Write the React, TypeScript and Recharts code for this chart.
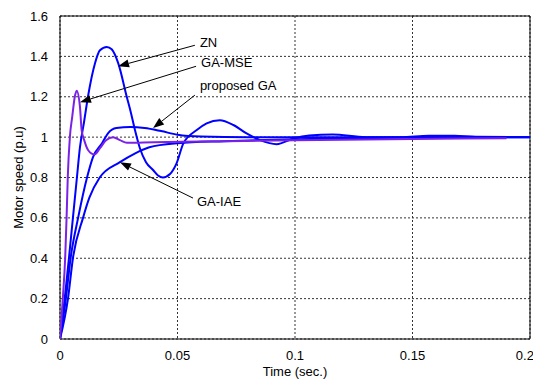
import React from "react";
import { LineChart, Line, XAxis, YAxis, CartesianGrid, ReferenceLine, ReferenceArea, Label } from "recharts";

// ZN response
const znTime = [0, 0.002, 0.0038, 0.0055, 0.0072, 0.0085, 0.0103, 0.0119, 0.0149, 0.017, 0.0199, 0.022, 0.0248, 0.0284, 0.0302, 0.0319, 0.034, 0.0366, 0.0396, 0.0417, 0.0438, 0.0468, 0.0496, 0.0525, 0.0582, 0.0624, 0.068, 0.0738, 0.0794, 0.0851, 0.0922, 0.0991, 0.106, 0.116, 0.13, 0.145, 0.157, 0.168, 0.177, 0.2];
const znSpeed = [0, 0.2, 0.4, 0.6, 0.8, 0.95, 1.08, 1.2, 1.366, 1.43, 1.447, 1.435, 1.365, 1.2, 1.12, 1.035, 0.945, 0.876, 0.837, 0.81, 0.8, 0.817, 0.87, 0.969, 1.035, 1.068, 1.084, 1.06, 1.018, 0.985, 0.965, 0.992, 1.008, 1.013, 1.0, 1.0, 1.007, 1.007, 1.002, 1.0];

// GA-MSE response
const mseTime = [0, 0.0012, 0.0022, 0.0028, 0.0033, 0.0042, 0.0052, 0.0063, 0.0071, 0.0085, 0.0092, 0.0103, 0.012, 0.0146, 0.017, 0.0196, 0.0226, 0.0255, 0.0285, 0.04, 0.06, 0.1, 0.14, 0.19];
const mseSpeed = [0, 0.2, 0.4, 0.6, 0.8, 1.0, 1.1, 1.2, 1.23, 1.15, 1.035, 0.985, 0.935, 0.914, 0.945, 0.985, 1.0, 0.985, 0.972, 0.975, 0.978, 0.985, 0.99, 0.995];

// proposed GA response
const propTime = [0, 0.0025, 0.0045, 0.0077, 0.0115, 0.014, 0.0179, 0.0205, 0.024, 0.03, 0.036, 0.043, 0.05, 0.06, 0.08, 0.2];
const propSpeed = [0, 0.2, 0.4, 0.6, 0.8, 0.9, 0.97, 1.02, 1.045, 1.05, 1.045, 1.03, 1.012, 1.003, 1.0, 1.0];

// GA-IAE response
const iaeTime = [0, 0.0034, 0.0055, 0.0098, 0.0125, 0.0169, 0.0255, 0.032, 0.038, 0.05, 0.07, 0.1, 0.15, 0.2];
const iaeSpeed = [0, 0.2, 0.4, 0.6, 0.7, 0.8, 0.876, 0.92, 0.95, 0.97, 0.98, 0.99, 0.998, 1.0];

const xTicks = [0, 0.05, 0.1, 0.15, 0.2];
const yTicks = [0, 0.2, 0.4, 0.6, 0.8, 1, 1.2, 1.4, 1.6];

// annotations: label, label anchor (start of arrow), arrow tip
const noteLabels = ["ZN", "GA-MSE", "proposed GA", "GA-IAE"];
const noteStart = [[0.0574, 1.455], [0.0579, 1.351], [0.0574, 1.208], [0.0566, 0.698]];
const noteTip = [[0.0247, 1.351], [0.0085, 1.173], [0.0396, 1.045], [0.0255, 0.876]];
const noteTextOffset = [[5, -2], [5, -3], [5, -9], [4, 4]];

const toData = (t: number[], v: number[]) => t.map((x, i) => ({ t: x, v: v[i] }));

const FONT = "Liberation Sans, Arial, sans-serif";

const makeArrow = (label: string, off: number[]) => (p: any) => {
  const { x1, y1, x2, y2 } = p;
  const dx = x2 - x1;
  const dy = y2 - y1;
  const len = Math.sqrt(dx * dx + dy * dy) || 1;
  const ux = dx / len;
  const uy = dy / len;
  const hl = 11;
  const hw = 4;
  const bx = x2 - ux * hl;
  const by = y2 - uy * hl;
  const pts = `${x2},${y2} ${bx - uy * hw},${by + ux * hw} ${bx + uy * hw},${by - ux * hw}`;
  return (
    <g>
      <line x1={x1} y1={y1} x2={bx} y2={by} stroke="#000" strokeWidth={1} />
      <polygon points={pts} fill="#000" />
      <text x={x1 + off[0]} y={y1 + off[1]} fontSize={13} fontFamily={FONT} fill="#000" dominantBaseline="middle">
        {label}
      </text>
    </g>
  );
};

export default function App() {
  return (
    <div style={{ width: 533, height: 373, background: "#fff" }}>
      <LineChart width={525} height={373} margin={{ top: 8, right: 3, left: 0, bottom: 0 }}>
        <CartesianGrid stroke="#333" strokeDasharray="2 2" strokeWidth={1} />
        <XAxis
          type="number"
          dataKey="t"
          domain={[0, 0.2]}
          ticks={xTicks}
          tickFormatter={(v: number) => String(v)}
          height={42}
          tickLine={false}
          axisLine={false}
          tickMargin={6}
          tick={{ fontSize: 13, fontFamily: FONT, fill: "#000" }}
          allowDataOverflow
        >
          <Label value="Time (sec.)" position="insideBottom" offset={5} style={{ fontSize: 13, fontFamily: FONT, fill: "#000" }} />
        </XAxis>
        <YAxis
          type="number"
          domain={[0, 1.6]}
          ticks={yTicks}
          tickFormatter={(v: number) => String(v)}
          width={52}
          tickLine={false}
          axisLine={false}
          tickMargin={6}
          tick={{ fontSize: 13, fontFamily: FONT, fill: "#000" }}
          allowDataOverflow
        >
          <Label value="Motor speed (p.u)" angle={-90} position="insideLeft" offset={10} style={{ fontSize: 13, fontFamily: FONT, fill: "#000", textAnchor: "middle" }} />
        </YAxis>
        <ReferenceArea x1={0} x2={0.2} y1={0} y2={1.6} stroke="#000" strokeWidth={1} fill="none" fillOpacity={0} />
        <Line data={toData(iaeTime, iaeSpeed)} dataKey="v" type="monotone" stroke="#0000FF" strokeWidth={2} dot={false} isAnimationActive={false} />
        <Line data={toData(propTime, propSpeed)} dataKey="v" type="monotone" stroke="#0000FF" strokeWidth={2} dot={false} isAnimationActive={false} />
        <Line data={toData(znTime, znSpeed)} dataKey="v" type="monotone" stroke="#0000FF" strokeWidth={2} dot={false} isAnimationActive={false} />
        <Line data={toData(mseTime, mseSpeed)} dataKey="v" type="monotone" stroke="#7A22E6" strokeWidth={2} dot={false} isAnimationActive={false} />
        {noteLabels.map((lab, i) => (
          <ReferenceLine
            key={lab}
            segment={[
              { x: noteStart[i][0], y: noteStart[i][1] },
              { x: noteTip[i][0], y: noteTip[i][1] },
            ]}
            stroke="#000"
            shape={makeArrow(lab, noteTextOffset[i])}
            ifOverflow="visible"
          />
        ))}
      </LineChart>
    </div>
  );
}
